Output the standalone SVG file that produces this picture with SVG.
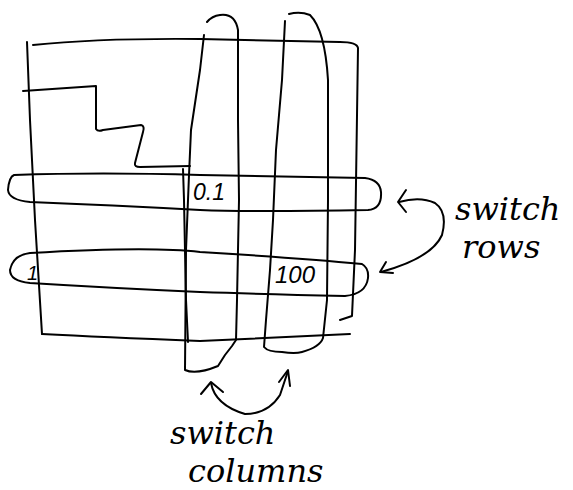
<svg xmlns="http://www.w3.org/2000/svg" width="573" height="490" viewBox="0 0 573 490">
<style>
.s{fill:none;stroke:#000;stroke-width:2;stroke-linecap:round;stroke-linejoin:round}
.t{font-family:"DejaVu Serif","Liberation Serif",serif;font-style:italic;fill:#000}
.h{font-family:"Liberation Sans",sans-serif;font-style:italic;fill:#000}
</style>
<rect width="573" height="490" fill="#fff"/>
<g id="matrix">
<path class="s" d="M27,42 L30,120 L35,220 L42,334"/>
<path class="s" d="M33,45 Q100,38 200,39 L340,42 Q357,42 358,48 L355,250 L352,316 L340,320"/>
<path class="s" d="M42,334 Q100,337 200,341 L350,334"/>
<path class="s" d="M23,91 L96,86 L96,129 Q98,132 103,130 L141,125 Q145,126 143,132 L135,163 Q134,167 140,167 L190,166"/>
<path class="s" d="M183,169 L184,200 L186,300 L188,342"/>
<text class="h" x="193" y="200" font-size="23">0.1</text>
<text class="h" x="275" y="283" font-size="24">100</text>
<text class="h" x="27" y="280" font-size="20">1</text>
</g>
<g id="row1">
<path class="s" d="M14,175 Q100,172 200,175 L365,178 Q380,180 381,192 Q382,209 368,210 Q250,212 200,210 Q110,205 30,202 Q9,200 8,190 Q9,177 14,175"/>
</g>
<g id="row2">
<path class="s" d="M30,253 Q150,246 200,252 Q300,258 362,264 Q369,268 368,278 Q366,294 345,296 Q260,294 200,292 Q110,288 30,283 Q10,281 10,270 Q13,255 30,253"/>
</g>
<g id="col1">
<path class="s" d="M204,35 L200,70 L191,130 L189,175 L186,250 L185,370 Q196,375 218,366 L225,355 L232,346 L236,340 L237,300 L239,200 L238,120 L238,30 Q235,13 220,15 Q212,16 207,22"/>
</g>
<g id="col2">
<path class="s" d="M285,21 L282,80 L276,150 L273,220 L270,270 L266,320 L264,347 Q268,352 282,352 Q295,354 302,352 Q320,347 323,338 L327,300 L328,200 L328,80 Q325,30 310,15 Q300,11 289,14"/>
</g>
<g id="connectors">
<path class="s" d="M399,202 Q420,196 435,203 Q448,212 442,235 Q432,258 381,272"/>
<path class="s" d="M406,190 L398,202 L406,212"/>
<path class="s" d="M386,262 L380,272 L393,273"/>
<path class="s" d="M211,383 Q215,405 245,414 Q268,414 280,395 L288,371"/>
<path class="s" d="M201,394 L211,382 L223,392"/>
<path class="s" d="M279,382 L288,370 L290,386"/>
</g>
<g id="labels">
<text class="t" x="455" y="220" font-size="32">switch</text>
<text class="t" x="462" y="258" font-size="32">rows</text>
<text class="t" x="170" y="444" font-size="32">switch</text>
<text class="t" x="188" y="482" font-size="32">columns</text>
</g>
</svg>
